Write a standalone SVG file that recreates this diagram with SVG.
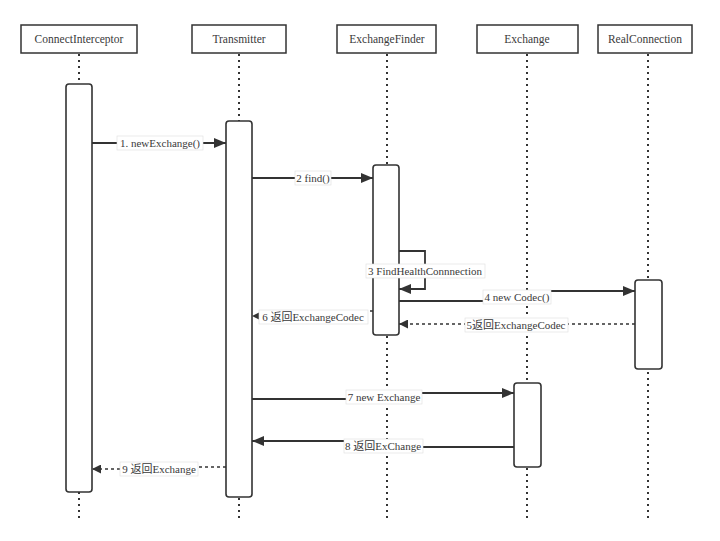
<svg xmlns="http://www.w3.org/2000/svg" width="720" height="541" viewBox="0 0 720 541" font-family="Liberation Serif, Noto Sans CJK SC, serif">
<style>
.hdr{fill:#fff;stroke:#333;stroke-width:1.5}
.ht{font-size:11.5px;fill:#3a3a3a;text-anchor:middle}
.life{stroke:#333;stroke-width:2;stroke-dasharray:2 4;fill:none}
.act{fill:#fff;stroke:#333;stroke-width:1.6}
.msg{fill:none;stroke:#333;stroke-width:1.8}
.ret{fill:none;stroke:#333;stroke-width:1.6;stroke-dasharray:3 3}
.lb{fill:#fff;stroke:#ddd;stroke-width:0.6}
.lt{font-size:11px;fill:#3a3a3a;text-anchor:middle}
</style>
<defs>
<marker id="ah" viewBox="0 0 12 10" refX="12" refY="5" markerWidth="12" markerHeight="10" markerUnits="userSpaceOnUse" orient="auto">
<path d="M0,0 L12,5 L0,10 z" fill="#333"/>
</marker>
<marker id="ahs" viewBox="0 0 10 10" refX="10" refY="5" markerWidth="9" markerHeight="9" markerUnits="userSpaceOnUse" orient="auto">
<path d="M0,0 L10,5 L0,10 z" fill="#333"/>
</marker>
</defs>
<rect width="720" height="541" fill="#fff"/>

<g id="lifelines">
<line class="life" x1="79" y1="54" x2="79" y2="520"/>
<line class="life" x1="239" y1="54" x2="239" y2="520"/>
<line class="life" x1="387" y1="54" x2="387" y2="520"/>
<line class="life" x1="527" y1="54" x2="527" y2="520"/>
<line class="life" x1="648" y1="54" x2="648" y2="520"/>
</g>

<g id="ConnectInterceptor">
<rect class="hdr" x="21" y="25" width="116" height="28"/>
<text class="ht" x="79" y="43">ConnectInterceptor</text>
<rect class="act" x="66" y="84" width="26" height="408" rx="3"/>
</g>
<g id="Transmitter">
<rect class="hdr" x="192" y="25" width="94" height="28"/>
<text class="ht" x="239" y="43">Transmitter</text>
<rect class="act" x="226" y="121" width="26" height="376" rx="3"/>
</g>
<g id="ExchangeFinder">
<rect class="hdr" x="337" y="25" width="99" height="28"/>
<text class="ht" x="387" y="43">ExchangeFinder</text>
<rect class="act" x="373" y="165" width="26" height="170" rx="3"/>
</g>
<g id="Exchange">
<rect class="hdr" x="477" y="25" width="101" height="28"/>
<text class="ht" x="527" y="43">Exchange</text>
<rect class="act" x="514" y="383" width="27" height="84" rx="3"/>
</g>
<g id="RealConnection">
<rect class="hdr" x="598" y="25" width="94" height="28"/>
<text class="ht" x="645" y="43">RealConnection</text>
<rect class="act" x="635" y="280" width="27" height="89" rx="3"/>
</g>

<g id="connectors">
<path class="msg" d="M92,143 H226" marker-end="url(#ah)"/>
<rect class="lb" x="117" y="136" width="86" height="14"/>
<text class="lt" x="160" y="147">1. newExchange()</text>

<path class="msg" d="M252,178 H373" marker-end="url(#ah)"/>
<rect class="lb" x="295" y="171" width="36" height="14"/>
<text class="lt" x="313" y="182">2 find()</text>

<path class="msg" d="M399,251 H425 V289 H399" marker-end="url(#ah)"/>
<rect class="lb" x="366" y="264" width="119" height="14"/>
<text class="lt" x="425" y="275">3 FindHealthConnnection</text>

<path class="msg" d="M399,301 H517 V291 H635" marker-end="url(#ah)"/>
<rect class="lb" x="483" y="290" width="68" height="14"/>
<text class="lt" x="517" y="301">4 new Codec()</text>

<path class="ret" d="M635,324 H399" marker-end="url(#ahs)"/>
<rect class="lb" x="465" y="318" width="103" height="14"/>
<text class="lt" x="516" y="329">5返回ExchangeCodec</text>

<path class="ret" d="M373,311 H313 V316 H252" marker-end="url(#ahs)"/>
<rect class="lb" x="259" y="310" width="109" height="14"/>
<text class="lt" x="313" y="321">6 返回ExchangeCodec</text>

<path class="msg" d="M252,399 H384 V393 H514" marker-end="url(#ah)"/>
<rect class="lb" x="346" y="390" width="76" height="14"/>
<text class="lt" x="384" y="401">7 new Exchange</text>

<path class="msg" d="M514,447 H383 V441 H252" marker-end="url(#ah)"/>
<rect class="lb" x="344" y="439" width="79" height="14"/>
<text class="lt" x="383" y="450">8 返回ExChange</text>

<path class="ret" d="M226,467 H159 V469 H92" marker-end="url(#ahs)"/>
<rect class="lb" x="120" y="462" width="78" height="14"/>
<text class="lt" x="159" y="473">9 返回Exchange</text>
</g>
</svg>
